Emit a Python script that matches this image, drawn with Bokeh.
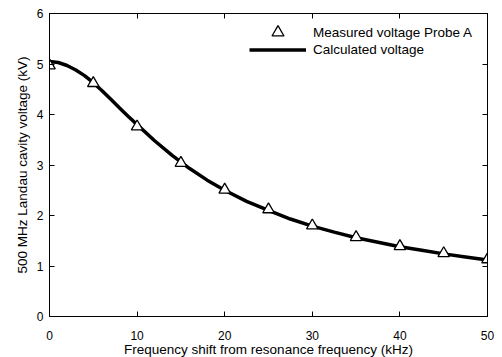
from bokeh.plotting import figure
from bokeh.models import LinearAxis, Range1d, SingleIntervalTicker, Legend, LegendItem
from bokeh.embed import file_html
from bokeh.resources import INLINE

# Measured voltage, Probe A (triangles)
meas_freq = [0, 5, 10, 15, 20, 25, 30, 35, 40, 45, 50]
meas_volt = [4.97, 4.62, 3.76, 3.04, 2.51, 2.12, 1.80, 1.57, 1.39, 1.25, 1.13]

# Calculated voltage (solid curve)
calc_freq = [0, 1, 2, 3, 4, 5, 6, 7, 8, 9, 10, 12, 14, 16, 18, 20, 22.5, 25,
             27.5, 30, 32.5, 35, 37.5, 40, 42.5, 45, 47.5, 50]
calc_volt = [5.05, 5.03, 4.97, 4.88, 4.77, 4.63, 4.47, 4.30, 4.13, 3.96, 3.80,
             3.48, 3.19, 2.93, 2.70, 2.50, 2.28, 2.10, 1.93, 1.79, 1.67, 1.56,
             1.47, 1.38, 1.31, 1.24, 1.18, 1.12]

x_label = "Frequency shift from resonance frequency (kHz)"
y_label = "500 MHz Landau cavity voltage (kV)"
legend_labels = ["Measured voltage Probe A", "Calculated voltage"]

FONT = "Liberation Sans"

p = figure(frame_width=438, frame_height=303, output_backend="svg",
           toolbar_location=None, x_range=Range1d(0, 50), y_range=Range1d(0, 6),
           min_border_left=49, min_border_right=15, min_border_top=13,
           min_border_bottom=40)
p.grid.visible = False
p.outline_line_color = "black"
p.outline_line_width = 1
p.background_fill_color = "white"
p.border_fill_color = "white"

line_r = p.line(calc_freq, calc_volt, line_color="black", line_width=3.5)
tri_r = p.scatter(meas_freq, meas_volt, marker="triangle", size=11.5,
                  fill_color="white", line_color="black", line_width=1.3)

def style_axis(ax, ticker_interval, show_labels=True):
    ax.ticker = SingleIntervalTicker(interval=ticker_interval, num_minor_ticks=0)
    ax.major_tick_in = 5
    ax.major_tick_out = 0
    ax.minor_tick_in = 0
    ax.minor_tick_out = 0
    ax.axis_line_color = "black"
    ax.axis_line_width = 1
    ax.major_tick_line_color = "black"
    ax.major_label_text_font = FONT
    ax.major_label_text_font_size = "12px"
    ax.major_label_text_color = "black"
    ax.axis_label_text_font = FONT
    ax.axis_label_text_font_size = "13.5px"
    ax.axis_label_text_font_style = "normal"
    ax.axis_label_text_color = "black"
    if not show_labels:
        ax.major_label_text_color = None
        ax.major_label_text_font_size = "5px"
        ax.major_label_standoff = 0

xa = p.xaxis[0]
style_axis(xa, 10)
xa.axis_label = x_label
xa.major_label_standoff = 14
xa.axis_label_standoff = -1

ya = p.yaxis[0]
style_axis(ya, 1)
ya.axis_label = y_label
ya.major_label_standoff = 6
ya.axis_label_standoff = 4

top = LinearAxis()
style_axis(top, 10, show_labels=False)
p.add_layout(top, "above")
right = LinearAxis()
style_axis(right, 1, show_labels=False)
p.add_layout(right, "right")

def make_legend(item, gh, loc):
    lg = Legend(items=[item], location=loc)
    lg.border_line_color = None
    lg.background_fill_alpha = 0
    lg.padding = 0
    lg.margin = 0
    lg.spacing = 0
    lg.glyph_width = 57
    lg.glyph_height = gh
    lg.label_height = gh
    lg.label_standoff = 7
    lg.label_text_font = FONT
    lg.label_text_font_size = "13.5px"
    lg.label_text_color = "black"
    return lg

p.add_layout(make_legend(LegendItem(label=legend_labels[0], renderers=[tri_r]), 30, (200, 269)))
p.add_layout(make_legend(LegendItem(label=legend_labels[1], renderers=[line_r]), 17, (200, 258)))

open("out.html", "w").write(file_html(p, INLINE))
